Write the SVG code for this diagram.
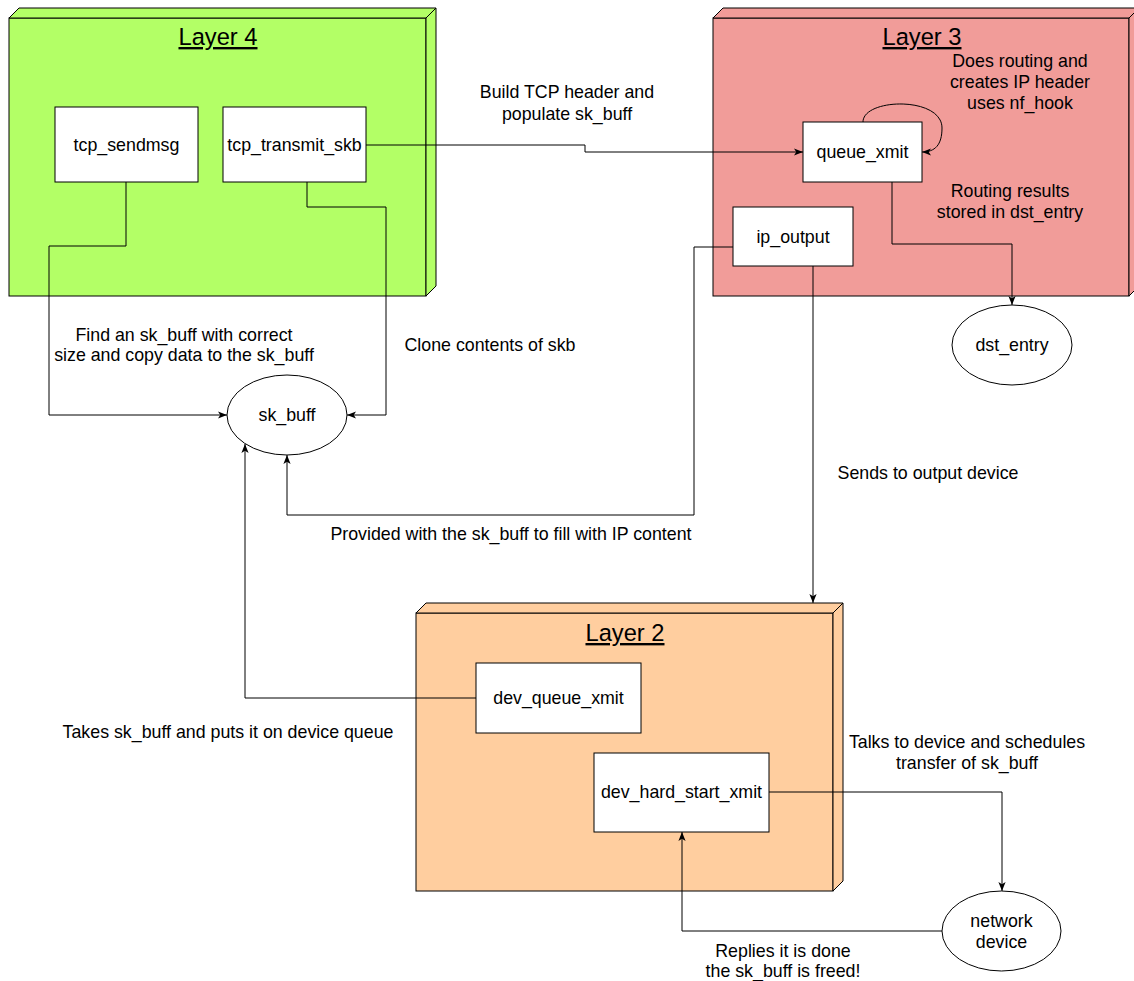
<svg xmlns="http://www.w3.org/2000/svg" width="1134" height="981" viewBox="0 0 1134 981">
<defs>
<style>
text{font-family:"Liberation Sans",Arial,sans-serif;font-size:17.8px;fill:#000;text-anchor:middle}
.title{font-size:23.7px;text-decoration:underline}
.box{fill:#fff;stroke:#000;stroke-width:1}
.ell{fill:#fff;stroke:#000;stroke-width:1}
.layer{stroke:#000;stroke-width:1;stroke-linejoin:miter}
.edge{fill:none;stroke:#000;stroke-width:1}
</style>
<marker id="arr" viewBox="0 0 10 10" refX="10" refY="5" markerWidth="9" markerHeight="9" markerUnits="userSpaceOnUse" orient="auto">
<path d="M0,1 L10,5 L0,9 L2.5,5 z" fill="#000"/>
</marker>
</defs>
<rect width="1134" height="981" fill="#fff"/>

<g id="layer4">
<rect class="layer" x="9" y="18" width="417" height="278" fill="#B3FF66"/>
<polygon class="layer" points="9,18 19,8 436,8 426,18" fill="#B3FF66"/>
<polygon class="layer" points="426,18 436,8 436,286 426,296" fill="#B3FF66"/>
<text class="title" x="218" y="45">Layer 4</text>
</g>
<g id="layer3">
<rect class="layer" x="713" y="18" width="416" height="278" fill="#F19C99"/>
<polygon class="layer" points="713,18 723,8 1139,8 1129,18" fill="#F19C99"/>
<polygon class="layer" points="1129,18 1139,8 1139,286 1129,296" fill="#F19C99"/>
<text class="title" x="922" y="45">Layer 3</text>
</g>
<g id="layer2">
<rect class="layer" x="416" y="613" width="417" height="278" fill="#FFCE9F"/>
<polygon class="layer" points="416,613 426,603 843,603 833,613" fill="#FFCE9F"/>
<polygon class="layer" points="833,613 843,603 843,881 833,891" fill="#FFCE9F"/>
<text class="title" x="625" y="641">Layer 2</text>
</g>

<g id="connectors">
<path class="edge" d="M126,182 V246 H49 V415 H227" marker-end="url(#arr)"/>
<path class="edge" d="M307,182 V207 H386 V415 H347" marker-end="url(#arr)"/>
<path class="edge" d="M366,145 H585 V152 H803" marker-end="url(#arr)"/>
<path class="edge" d="M863,122 C863,98 942,96 942,128 C942,145 935,152 922,152" marker-end="url(#arr)"/>
<path class="edge" d="M892,182 V244 H1012 V305" marker-end="url(#arr)"/>
<path class="edge" d="M733,247 H694 V515 H287 V455" marker-end="url(#arr)"/>
<path class="edge" d="M813,266 V603" marker-end="url(#arr)"/>
<path class="edge" d="M476,698 H245 V444" marker-end="url(#arr)"/>
<path class="edge" d="M769,792 H1002 V891" marker-end="url(#arr)"/>
<path class="edge" d="M942,931 H682 V832" marker-end="url(#arr)"/>
</g>

<g id="tcp_sendmsg">
<rect class="box" x="55" y="107" width="143" height="75"/>
<text x="126.5" y="151">tcp_sendmsg</text>
</g>
<g id="tcp_transmit_skb">
<rect class="box" x="223" y="107" width="143" height="75"/>
<text x="294.5" y="151">tcp_transmit_skb</text>
</g>
<g id="queue_xmit">
<rect class="box" x="803" y="122" width="119" height="60"/>
<text x="862.5" y="158">queue_xmit</text>
</g>
<g id="ip_output">
<rect class="box" x="733" y="207" width="120" height="59"/>
<text x="793" y="243">ip_output</text>
</g>
<g id="dev_queue_xmit">
<rect class="box" x="476" y="663" width="165" height="70"/>
<text x="558.5" y="704">dev_queue_xmit</text>
</g>
<g id="dev_hard_start_xmit">
<rect class="box" x="594" y="753" width="175" height="79"/>
<text x="681.5" y="798">dev_hard_start_xmit</text>
</g>
<g id="sk_buff">
<ellipse class="ell" cx="287" cy="415" rx="60" ry="40"/>
<text x="287" y="421">sk_buff</text>
</g>
<g id="dst_entry">
<ellipse class="ell" cx="1012" cy="345" rx="60" ry="40"/>
<text x="1012" y="351">dst_entry</text>
</g>
<g id="network_device">
<ellipse class="ell" cx="1001.5" cy="931" rx="59.5" ry="40"/>
<text x="1001.5" y="927">network</text>
<text x="1001.5" y="948">device</text>
</g>

<g id="labels">
<text x="567" y="98">Build TCP header and</text>
<text x="567" y="120">populate sk_buff</text>
<text x="1020" y="67">Does routing and</text>
<text x="1020" y="88">creates IP header</text>
<text x="1020" y="109">uses nf_hook</text>
<text x="1010" y="197">Routing results</text>
<text x="1010" y="218">stored in dst_entry</text>
<text x="184" y="341">Find an sk_buff with correct</text>
<text x="184" y="361">size and copy data to the sk_buff</text>
<text x="490" y="351">Clone contents of skb</text>
<text x="511" y="540">Provided with the sk_buff to fill with IP content</text>
<text x="928" y="479">Sends to output device</text>
<text x="228" y="738">Takes sk_buff and puts it on device queue</text>
<text x="967" y="748">Talks to device and schedules</text>
<text x="967" y="769">transfer of sk_buff</text>
<text x="783" y="957">Replies it is done</text>
<text x="783" y="977">the sk_buff is freed!</text>
</g>
</svg>
